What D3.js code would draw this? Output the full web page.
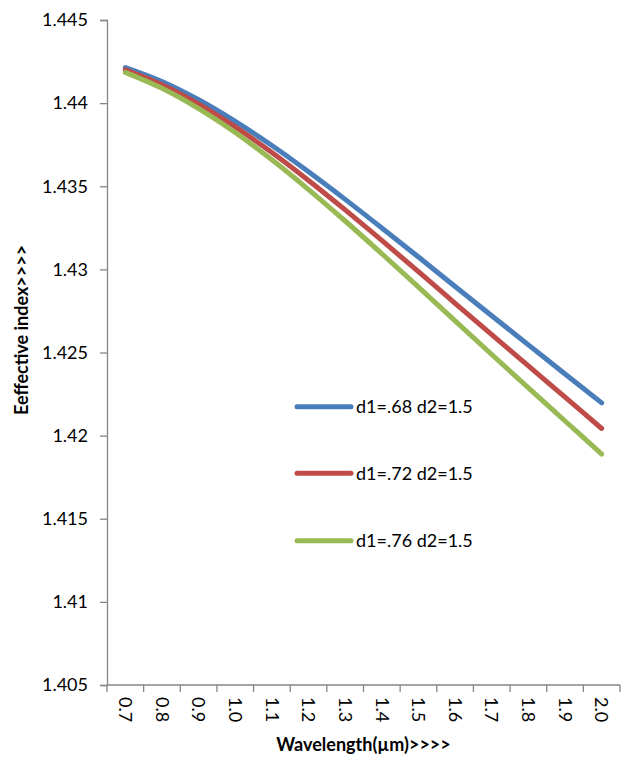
<!DOCTYPE html>
<html>
<head>
<meta charset="utf-8">
<script src="https://cdn.jsdelivr.net/npm/d3@7/dist/d3.min.js"></script>
<style>
  html, body { margin: 0; padding: 0; background: #fff; }
  svg { display: block; font-family: Lato, "Open Sans", sans-serif; }
</style>
</head>
<body>
<div id="chart"></div>
<script>
const wavelengths = ["0.7","0.8","0.9","1.0","1.1","1.2","1.3","1.4","1.5","1.6","1.7","1.8","1.9","2.0"];
const seriesNames = ["d1=.68 d2=1.5","d1=.72 d2=1.5","d1=.76 d2=1.5"];
const seriesColors = ["#4A7EBB","#BE4B48","#98B954"];
const d068 = [1.44214,1.44130,1.44020,1.43890,1.43745,1.43587,1.43421,1.43249,1.43074,1.42897,1.42721,1.42546,1.42371,1.42197];
const d072 = [1.44200,1.44110,1.43994,1.43857,1.43703,1.43535,1.43358,1.43174,1.42986,1.42796,1.42607,1.42419,1.42231,1.42043];
const d076 = [1.44185,1.44089,1.43967,1.43823,1.43659,1.43480,1.43291,1.43094,1.42893,1.42690,1.42488,1.42287,1.42088,1.41889];
const yTicks = [1.405,1.41,1.415,1.42,1.425,1.43,1.435,1.44,1.445];
const yTickLabels = ["1.405","1.41","1.415","1.42","1.425","1.43","1.435","1.44","1.445"];
const xTitle = "Wavelength(µm)>>>>";
const yTitle = "Eeffective index>>>>";

const W = 621, H = 758;
const mLeft = 107, mRight = 620, mTop = 20, mBottom = 685;
const axisColor = "#868686";

const svg = d3.select("#chart").append("svg").attr("width", W).attr("height", H);

const x = d3.scaleBand().domain(wavelengths).range([mLeft, mRight]).padding(0);
const y = d3.scaleLinear().domain([1.405, 1.445]).range([mBottom, mTop]);

// Y axis
const yAxis = d3.axisLeft(y).tickValues(yTicks)
  .tickFormat((d, i) => yTickLabels[i]).tickSize(7).tickPadding(12);
const gy = svg.append("g").attr("transform", `translate(${mLeft},0)`).call(yAxis);
gy.select(".domain").attr("stroke", axisColor).attr("stroke-width", 1.3);
gy.selectAll(".tick line").attr("stroke", axisColor).attr("stroke-width", 1.3);
gy.selectAll(".tick text").attr("fill", "#000").style("font-size", "18px")
  .style("font-family", "Lato, sans-serif");

// X axis (category, ticks between categories)
const gx = svg.append("g").attr("transform", `translate(0,${mBottom})`);
gx.append("line").attr("x1", mLeft).attr("x2", mRight).attr("y1", 0).attr("y2", 0)
  .attr("stroke", axisColor).attr("stroke-width", 1.3);
const boundaries = wavelengths.map(d => x(d)).concat([x(wavelengths[wavelengths.length-1]) + x.bandwidth()]);
gx.selectAll("line.tk").data(boundaries).enter().append("line").attr("class","tk")
  .attr("x1", d => d).attr("x2", d => d).attr("y1", 0).attr("y2", 7)
  .attr("stroke", axisColor).attr("stroke-width", 1.3);
gx.selectAll("text.tl").data(wavelengths).enter().append("text").attr("class","tl")
  .attr("transform", d => `translate(${x(d) + x.bandwidth()/2},${12}) rotate(90)`)
  .attr("dy", "0.35em")
  .attr("text-anchor", "start")
  .style("font-size", "18px")
  .text(d => d);

// Lines
const allSeries = [d068, d072, d076];
const line = d3.line()
  .x((d, i) => x(wavelengths[i]) + x.bandwidth()/2)
  .y(d => y(d))
  .curve(d3.curveCatmullRom.alpha(0.5));
allSeries.forEach((s, k) => {
  svg.append("path").datum(s).attr("d", line)
    .attr("fill", "none").attr("stroke", seriesColors[k])
    .attr("stroke-width", 5).attr("stroke-linecap", "round").attr("stroke-linejoin", "round");
});

// Legend
const legY = [406.7, 473.3, 540.7];
seriesNames.forEach((name, k) => {
  svg.append("line").attr("x1", 297).attr("x2", 351).attr("y1", legY[k]).attr("y2", legY[k])
    .attr("stroke", seriesColors[k]).attr("stroke-width", 5).attr("stroke-linecap", "round");
  svg.append("text").attr("x", 356).attr("y", legY[k]).attr("dy", "0.35em")
    .style("font-size", "18px").text(name);
});

// Axis titles
svg.append("text").attr("x", (mLeft + mRight)/2).attr("y", 745).attr("dy", "0.35em")
  .attr("text-anchor", "middle").style("font-size", "18px").style("font-weight", "bold")
  .text(xTitle);
svg.append("text").attr("transform", `translate(22,330) rotate(-90)`).attr("dy", "0.35em")
  .attr("text-anchor", "middle").style("font-size", "18px").style("font-weight", "bold")
  .text(yTitle);
</script>
</body>
</html>
